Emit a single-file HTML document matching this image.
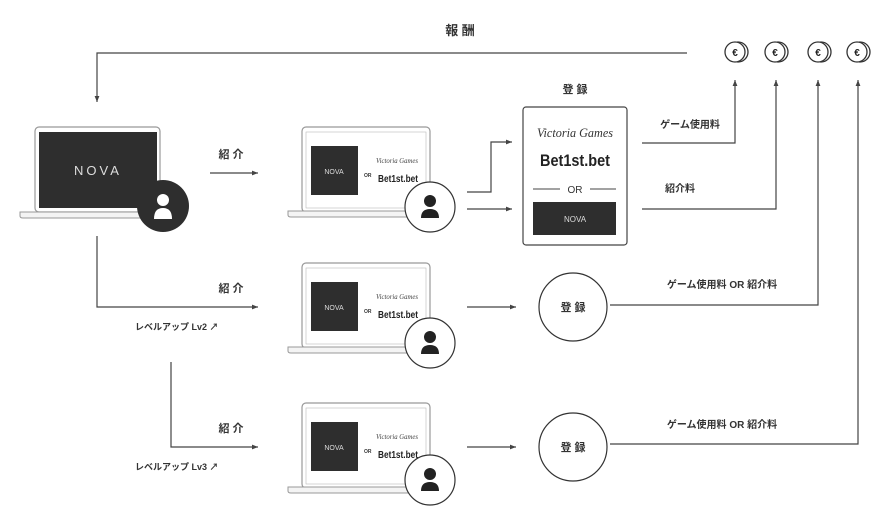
<!DOCTYPE html>
<html><head><meta charset="utf-8"><style>
html,body{margin:0;padding:0;background:#fff;}
svg{display:block;font-family:"Liberation Sans","Noto Sans CJK JP",sans-serif;}
.jp{font-family:"Liberation Sans","Noto Sans CJK JP",sans-serif;font-weight:bold;fill:#333;}
.ln{stroke:#444;stroke-width:1.2;fill:none;}
</style></head><body>
<svg width="895" height="525" viewBox="0 0 895 525" xmlns="http://www.w3.org/2000/svg">
<defs>
<marker id="a" markerWidth="6" markerHeight="6" refX="5" refY="3" orient="auto"><path d="M0,1 L5,3 L0,5z" fill="#444"/></marker>
</defs>

<text x="460" y="35" class="jp" font-size="13" text-anchor="middle">報 酬</text>
<polyline class="ln" points="687,53 97,53 97,102" marker-end="url(#a)"/>

<g fill="#fff" stroke="#333" stroke-width="1.3">
<circle cx="738" cy="52" r="10"/><circle cx="735" cy="52" r="10"/>
<circle cx="778" cy="52" r="10"/><circle cx="775" cy="52" r="10"/>
<circle cx="821" cy="52" r="10"/><circle cx="818" cy="52" r="10"/>
<circle cx="860" cy="52" r="10"/><circle cx="857" cy="52" r="10"/>
</g>
<g font-size="10" font-weight="bold" fill="#222" text-anchor="middle">
<text x="735" y="56">€</text><text x="775" y="56">€</text><text x="818" y="56">€</text><text x="857" y="56">€</text>
</g>
<polyline class="ln" points="642,143 735,143 735,80" marker-end="url(#a)"/>
<polyline class="ln" points="642,209 776,209 776,80" marker-end="url(#a)"/>
<polyline class="ln" points="610,305 818,305 818,80" marker-end="url(#a)"/>
<polyline class="ln" points="610,444 858,444 858,80" marker-end="url(#a)"/>
<text x="690" y="128" class="jp" font-size="10" text-anchor="middle">ゲーム使用料</text>
<text x="680" y="192" class="jp" font-size="10" text-anchor="middle">紹介料</text>
<text x="722" y="288" class="jp" font-size="10" text-anchor="middle">ゲーム使用料 OR 紹介料</text>
<text x="722" y="428" class="jp" font-size="10" text-anchor="middle">ゲーム使用料 OR 紹介料</text>

<rect x="35" y="127" width="125" height="85" rx="4" fill="#fff" stroke="#999" stroke-width="1.2"/>
<rect x="39" y="132" width="118" height="76" fill="#2e2e2e"/>
<path d="M20,212 H175 V216 Q175,218 172,218 H23 Q20,218 20,216z" fill="#f4f4f4" stroke="#999"/>
<text x="98" y="175" font-size="13" fill="#ddd" text-anchor="middle" letter-spacing="3">NOVA</text>
<circle cx="163" cy="206" r="26" fill="#2e2e2e"/>
<circle cx="163" cy="200" r="6" fill="#fff"/><path d="M154,219 Q154,208 163,208 Q172,208 172,219z" fill="#fff"/>

<text x="231" y="158" class="jp" font-size="11" text-anchor="middle">紹 介</text>
<line class="ln" x1="210" y1="173" x2="258" y2="173" marker-end="url(#a)"/>
<polyline class="ln" points="97,236 97,307 258,307" marker-end="url(#a)"/>
<text x="231" y="292" class="jp" font-size="11" text-anchor="middle">紹 介</text>
<text x="135" y="330" class="jp" font-size="9">レベルアップ  Lv2 ↗</text>
<polyline class="ln" points="171,362 171,447 258,447" marker-end="url(#a)"/>
<text x="231" y="432" class="jp" font-size="11" text-anchor="middle">紹 介</text>
<text x="135" y="470" class="jp" font-size="9">レベルアップ  Lv3 ↗</text>

<g>
<rect x="302" y="127" width="128" height="85" rx="4" fill="#fff" stroke="#999" stroke-width="1.2"/>
<rect x="306" y="132" width="120" height="76" fill="#fff" stroke="#bbb" stroke-width="0.6"/>
<path d="M288,211 H445 V215 Q445,217 442,217 H291 Q288,217 288,215z" fill="#f4f4f4" stroke="#999"/>
<rect x="311" y="146" width="47" height="49" fill="#2e2e2e"/>
<text x="334" y="174" font-size="7" fill="#ddd" text-anchor="middle">NOVA</text>
<text x="364" y="177" font-size="5" font-weight="bold" fill="#333">OR</text>
<text x="376" y="163" font-size="7" font-style="italic" fill="#444" textLength="42" lengthAdjust="spacingAndGlyphs" font-family="Liberation Serif,serif">Victoria Games</text>
<text x="378" y="182" font-size="10" font-weight="bold" fill="#222" textLength="40" lengthAdjust="spacingAndGlyphs">Bet1st.bet</text>
<circle cx="430" cy="207" r="25" fill="#fff" stroke="#333" stroke-width="1.2"/>
<circle cx="430" cy="201" r="6" fill="#222"/><path d="M421,218 Q421,209 430,209 Q439,209 439,218z" fill="#222"/>
</g>
<g transform="translate(0,136)">
<rect x="302" y="127" width="128" height="85" rx="4" fill="#fff" stroke="#999" stroke-width="1.2"/>
<rect x="306" y="132" width="120" height="76" fill="#fff" stroke="#bbb" stroke-width="0.6"/>
<path d="M288,211 H445 V215 Q445,217 442,217 H291 Q288,217 288,215z" fill="#f4f4f4" stroke="#999"/>
<rect x="311" y="146" width="47" height="49" fill="#2e2e2e"/>
<text x="334" y="174" font-size="7" fill="#ddd" text-anchor="middle">NOVA</text>
<text x="364" y="177" font-size="5" font-weight="bold" fill="#333">OR</text>
<text x="376" y="163" font-size="7" font-style="italic" fill="#444" textLength="42" lengthAdjust="spacingAndGlyphs" font-family="Liberation Serif,serif">Victoria Games</text>
<text x="378" y="182" font-size="10" font-weight="bold" fill="#222" textLength="40" lengthAdjust="spacingAndGlyphs">Bet1st.bet</text>
<circle cx="430" cy="207" r="25" fill="#fff" stroke="#333" stroke-width="1.2"/>
<circle cx="430" cy="201" r="6" fill="#222"/><path d="M421,218 Q421,209 430,209 Q439,209 439,218z" fill="#222"/>
</g>
<g transform="translate(0,276)">
<rect x="302" y="127" width="128" height="85" rx="4" fill="#fff" stroke="#999" stroke-width="1.2"/>
<rect x="306" y="132" width="120" height="76" fill="#fff" stroke="#bbb" stroke-width="0.6"/>
<path d="M288,211 H445 V215 Q445,217 442,217 H291 Q288,217 288,215z" fill="#f4f4f4" stroke="#999"/>
<rect x="311" y="146" width="47" height="49" fill="#2e2e2e"/>
<text x="334" y="174" font-size="7" fill="#ddd" text-anchor="middle">NOVA</text>
<text x="364" y="177" font-size="5" font-weight="bold" fill="#333">OR</text>
<text x="376" y="163" font-size="7" font-style="italic" fill="#444" textLength="42" lengthAdjust="spacingAndGlyphs" font-family="Liberation Serif,serif">Victoria Games</text>
<text x="378" y="182" font-size="10" font-weight="bold" fill="#222" textLength="40" lengthAdjust="spacingAndGlyphs">Bet1st.bet</text>
<circle cx="430" cy="204" r="25" fill="#fff" stroke="#333" stroke-width="1.2"/>
<circle cx="430" cy="198" r="6" fill="#222"/><path d="M421,215 Q421,206 430,206 Q439,206 439,215z" fill="#222"/>
</g>

<polyline class="ln" points="467,192 491,192 491,142 512,142" marker-end="url(#a)"/>
<line class="ln" x1="467" y1="209" x2="512" y2="209" marker-end="url(#a)"/>
<text x="575" y="93" class="jp" font-size="11" text-anchor="middle">登 録</text>
<rect x="523" y="107" width="104" height="138" rx="3" fill="#fff" stroke="#444" stroke-width="1.2"/>
<text x="537" y="137" font-size="13" font-style="italic" fill="#333" textLength="76" lengthAdjust="spacingAndGlyphs" font-family="Liberation Serif,serif">Victoria Games</text>
<text x="540" y="166" font-size="17" font-weight="bold" fill="#222" textLength="70" lengthAdjust="spacingAndGlyphs">Bet1st.bet</text>
<line x1="533" y1="189" x2="560" y2="189" stroke="#444"/><line x1="590" y1="189" x2="616" y2="189" stroke="#444"/>
<text x="575" y="193" font-size="10" fill="#333" text-anchor="middle">OR</text>
<rect x="533" y="202" width="83" height="33" fill="#2e2e2e"/>
<text x="575" y="222" font-size="8" fill="#ddd" text-anchor="middle">NOVA</text>

<line class="ln" x1="467" y1="307" x2="516" y2="307" marker-end="url(#a)"/>
<circle cx="573" cy="307" r="34" fill="#fff" stroke="#333" stroke-width="1.2"/>
<text x="573" y="311" class="jp" font-size="11" text-anchor="middle">登 録</text>
<line class="ln" x1="467" y1="447" x2="516" y2="447" marker-end="url(#a)"/>
<circle cx="573" cy="447" r="34" fill="#fff" stroke="#333" stroke-width="1.2"/>
<text x="573" y="451" class="jp" font-size="11" text-anchor="middle">登 録</text>
</svg>
</body></html>
